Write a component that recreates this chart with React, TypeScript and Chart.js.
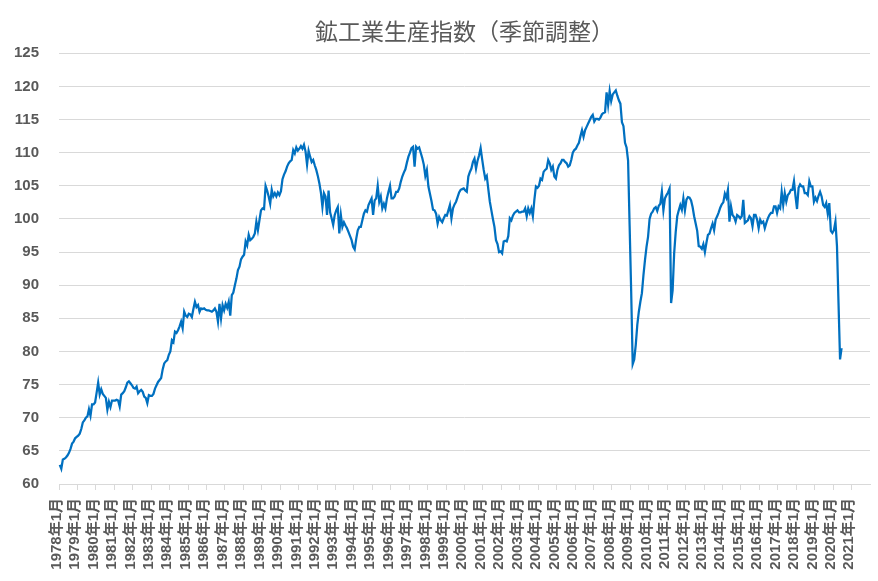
import React, { useEffect, useRef } from "react";
import { Chart, registerables } from "chart.js";

Chart.register(...registerables);

// 鉱工業生産指数（季節調整） monthly values
const Y1978 = [62.9, 62.3, 63.7, 63.8, 64.0, 64.3, 64.7, 65.3, 66.1, 66.4, 66.9, 67.1];
const Y1979 = [67.3, 67.6, 68.3, 69.3, 69.6, 70.0, 70.2, 71.3, 70.3, 72.0, 72.0, 72.3];
const Y1980 = [73.8, 75.3, 73.5, 74.3, 73.6, 73.3, 73.0, 71.2, 72.4, 71.6, 72.6, 72.6];
const Y1981 = [72.6, 72.7, 72.6, 71.7, 73.5, 73.7, 74.0, 74.6, 75.3, 75.5, 75.2, 74.9];
const Y1982 = [74.5, 74.4, 74.7, 73.7, 74.0, 74.2, 73.9, 73.2, 73.0, 72.2, 73.4, 73.3];
const Y1983 = [73.3, 73.6, 74.4, 74.9, 75.4, 75.7, 76.0, 77.3, 78.2, 78.5, 78.7, 79.5];
const Y1984 = [80.0, 81.7, 81.4, 83.0, 82.8, 83.2, 83.8, 84.5, 83.5, 86.0, 85.4, 85.2];
const Y1985 = [85.7, 85.6, 85.2, 86.4, 87.5, 86.7, 87.0, 86.0, 86.5, 86.4, 86.5, 86.3];
const Y1986 = [86.2, 86.2, 86.1, 86.0, 86.2, 86.5, 86.0, 84.5, 87.2, 85.0, 87.0, 86.2];
const Y1987 = [87.2, 86.6, 87.5, 85.4, 88.5, 88.9, 90.0, 91.0, 92.3, 92.8, 93.9, 94.3];
const Y1988 = [94.6, 96.6, 96.0, 97.6, 96.8, 97.0, 97.3, 97.8, 99.6, 98.3, 99.8, 101.3];
const Y1989 = [101.6, 101.5, 105.0, 104.3, 103.4, 102.3, 104.4, 103.4, 103.9, 103.4, 104.0, 103.6];
const Y1990 = [104.2, 106.0, 106.7, 107.2, 107.9, 108.4, 108.7, 108.9, 110.4, 109.9, 110.8, 110.3];
const Y1991 = [110.6, 111.0, 110.6, 111.2, 110.2, 108.2, 110.3, 109.4, 108.6, 108.9, 108.1, 107.4];
const Y1992 = [106.5, 105.4, 104.0, 101.8, 103.9, 103.4, 100.6, 104.3, 101.0, 100.1, 99.1, 100.6];
const Y1993 = [101.3, 101.8, 97.8, 100.6, 98.8, 99.5, 99.0, 98.6, 98.0, 97.4, 96.8, 95.8];
const Y1994 = [95.4, 97.0, 98.3, 98.8, 98.8, 99.8, 100.8, 101.3, 101.1, 102.1, 102.6, 103.1];
const Y1995 = [100.6, 102.8, 103.1, 105.0, 102.6, 103.4, 101.6, 102.3, 101.6, 103.1, 104.1, 105.0];
const Y1996 = [103.1, 103.1, 103.4, 104.1, 104.1, 104.6, 105.6, 106.4, 107.0, 107.5, 108.5, 109.4];
const Y1997 = [110.0, 110.7, 110.9, 107.9, 110.9, 110.6, 110.8, 110.0, 109.2, 108.2, 106.5, 107.4];
const Y1998 = [104.9, 103.8, 102.7, 101.4, 101.3, 100.8, 99.3, 100.3, 99.8, 99.5, 100.1, 100.6];
const Y1999 = [100.5, 101.3, 102.1, 100.1, 101.6, 102.2, 102.6, 103.3, 104.0, 104.4, 104.5, 104.6];
const Y2000 = [104.3, 104.1, 106.4, 107.1, 107.6, 108.6, 109.1, 107.6, 108.8, 109.6, 110.7, 109.0];
const Y2001 = [107.4, 106.1, 106.5, 104.5, 102.6, 101.3, 100.0, 98.8, 96.8, 96.2, 95.0, 95.1];
const Y2002 = [94.8, 96.6, 96.7, 96.6, 97.4, 100.1, 99.8, 100.5, 100.9, 101.1, 101.3, 101.0];
const Y2003 = [101.0, 101.1, 101.1, 101.6, 100.4, 101.6, 100.9, 101.6, 100.4, 102.9, 104.9, 104.7];
const Y2004 = [105.0, 106.1, 105.9, 107.1, 107.4, 107.6, 108.9, 108.4, 107.4, 107.9, 106.4, 106.1];
const Y2005 = [107.4, 108.1, 108.4, 108.9, 108.9, 108.6, 108.4, 107.9, 108.1, 108.9, 110.0, 110.4];
const Y2006 = [110.6, 111.1, 111.5, 112.5, 113.4, 112.4, 113.4, 113.9, 114.4, 114.9, 115.4, 115.7];
const Y2007 = [114.7, 115.1, 115.1, 115.0, 115.3, 115.8, 116.0, 116.1, 119.1, 117.2, 119.3, 117.8];
const Y2008 = [118.8, 119.1, 119.4, 118.6, 117.9, 117.4, 114.6, 114.0, 111.5, 110.8, 108.8, 99.0];
const Y2009 = [89.2, 78.1, 78.8, 81.0, 84.0, 86.0, 87.5, 88.8, 91.5, 93.8, 95.8, 97.3];
const Y2010 = [100.0, 100.8, 101.1, 101.6, 101.8, 101.2, 102.0, 102.3, 104.1, 101.3, 103.1, 103.6];
const Y2011 = [104.0, 104.6, 87.3, 89.2, 94.8, 98.0, 100.4, 101.3, 102.1, 101.4, 103.1, 101.3];
const Y2012 = [102.9, 103.3, 103.2, 102.8, 101.8, 100.4, 99.3, 98.2, 95.9, 95.8, 95.5, 96.2];
const Y2013 = [95.0, 96.4, 97.6, 97.8, 98.6, 99.3, 98.3, 99.9, 100.4, 101.0, 101.7, 102.2];
const Y2014 = [102.5, 103.8, 103.2, 104.4, 99.6, 101.9, 100.6, 100.3, 99.6, 100.6, 100.4, 100.1];
const Y2015 = [100.4, 102.9, 99.4, 99.6, 99.8, 100.4, 100.1, 98.9, 100.6, 100.6, 99.9, 98.6];
const Y2016 = [99.9, 99.4, 99.6, 98.6, 99.4, 100.1, 100.6, 100.9, 100.9, 101.9, 101.9, 100.9];
const Y2017 = [101.9, 101.6, 104.1, 102.1, 103.9, 102.6, 103.6, 103.9, 104.4, 104.4, 105.7, 103.4];
const Y2018 = [101.5, 104.7, 105.2, 104.9, 104.9, 103.9, 103.9, 103.6, 105.7, 104.9, 104.9, 102.6];
const Y2019 = [103.2, 102.7, 103.5, 104.1, 103.4, 102.1, 101.8, 102.4, 100.8, 102.4, 98.2, 97.9];
const Y2020 = [98.3, 99.6, 95.9, 87.3, 78.8, 80.5];

const YEARLY_VALUES = [
  Y1978, Y1979, Y1980, Y1981, Y1982, Y1983, Y1984, Y1985, Y1986, Y1987, Y1988,
  Y1989, Y1990, Y1991, Y1992, Y1993, Y1994, Y1995, Y1996, Y1997, Y1998, Y1999,
  Y2000, Y2001, Y2002, Y2003, Y2004, Y2005, Y2006, Y2007, Y2008, Y2009, Y2010,
  Y2011, Y2012, Y2013, Y2014, Y2015, Y2016, Y2017, Y2018, Y2019, Y2020,
];

// categories: 1978年1月 … 2021年12月 (axis runs to end of 2021)
const FIRST_YEAR = 1978;
const LAST_YEAR = 2021;
const MONTHS = [1, 2, 3, 4, 5, 6, 7, 8, 9, 10, 11, 12];
const CATEGORIES: string[] = [];
for (let y = FIRST_YEAR; y <= LAST_YEAR; y++) {
  for (const m of MONTHS) CATEGORIES.push(`${y}年${m}月`);
}
const VALUES: number[] = YEARLY_VALUES.flat();

const TITLE = "鉱工業生産指数（季節調整）";
const Y_MIN = 60;
const Y_MAX = 125;
const Y_STEP = 5;

const GRAY_TEXT = "#595959";
const GRID = "#d9d9d9";
const LINE_BLUE = "#0070C0";
const LABEL_FONT = "'Liberation Sans', 'Noto Sans CJK JP', sans-serif";

export default function App() {
  const ref = useRef<HTMLCanvasElement>(null);

  useEffect(() => {
    document.body.style.margin = "0";
    const canvas = ref.current;
    if (!canvas) return;
    const chart = new Chart(canvas, {
      type: "line",
      data: {
        labels: CATEGORIES,
        datasets: [
          {
            label: TITLE,
            data: VALUES,
            borderColor: LINE_BLUE,
            borderWidth: 2.25,
            pointRadius: 0,
            pointHoverRadius: 0,
            tension: 0,
            fill: false,
          },
        ],
      },
      options: {
        responsive: false,
        devicePixelRatio: 1,
        animation: false,
        events: [],
        layout: { padding: { left: 0, right: 8, top: 0, bottom: 0 } },
        plugins: {
          legend: { display: false },
          tooltip: { enabled: false },
          title: {
            display: true,
            text: TITLE,
            color: GRAY_TEXT,
            fullSize: false,
            font: { family: "'Noto Sans CJK JP', sans-serif", size: 23, weight: "normal" },
            padding: { top: 17.5, bottom: 8.2 },
          },
        },
        scales: {
          x: {
            type: "category",
            offset: true,
            afterFit: (s: any) => {
              s.height = 97;
              s.paddingLeft = 0;
              s.paddingRight = 0;
            },
            grid: {
              offset: true,
              drawOnChartArea: false,
              drawTicks: true,
              tickLength: 6,
              color: (ctx: any) => (ctx.index % 12 === 0 ? GRID : "rgba(0,0,0,0)"),
            },
            border: { display: true, color: GRID, width: 1 },
            ticks: {
              autoSkip: false,
              minRotation: 90,
              maxRotation: 90,
              padding: 8,
              labelOffset: -3,
              color: GRAY_TEXT,
              font: { family: LABEL_FONT, size: 15, weight: "bold" },
              callback: (_v: any, index: number) => (index % 12 === 0 ? CATEGORIES[index] : ""),
            },
          },
          y: {
            min: Y_MIN,
            max: Y_MAX,
            afterFit: (s: any) => {
              s.width = 59;
            },
            grid: { color: GRID, drawTicks: false, lineWidth: 1 },
            border: { display: false },
            ticks: {
              stepSize: Y_STEP,
              padding: 20,
              color: GRAY_TEXT,
              font: { family: LABEL_FONT, size: 15, weight: "bold" },
            },
          },
        },
      },
    });
    return () => chart.destroy();
  }, []);

  return (
    <div style={{ width: 878, height: 581, background: "#ffffff" }}>
      <canvas ref={ref} width={878} height={581} style={{ display: "block" }} />
    </div>
  );
}
